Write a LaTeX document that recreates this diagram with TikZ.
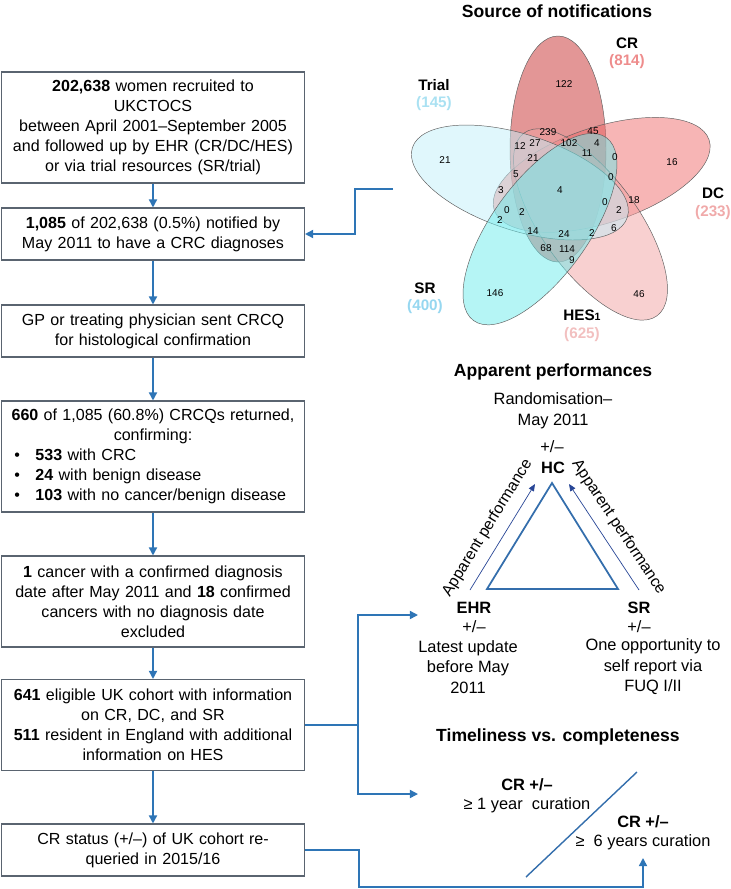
\documentclass[tikz,border=0pt]{standalone}
\usepackage{fontspec}
\setmainfont{Liberation Sans}
\usepackage{tikz}
\usetikzlibrary{calc, arrows.meta, positioning}
\definecolor{flowBlue}{RGB}{46,117,182}
\definecolor{boxGray}{RGB}{90,100,112}
\definecolor{triBlue}{RGB}{52,110,172}
\definecolor{perfNavy}{RGB}{40,70,150}
\definecolor{vennEdge}{RGB}{95,95,95}
\definecolor{crRed}{RGB}{199,45,45}
\definecolor{dcRed}{RGB}{239,107,107}
\definecolor{hesPink}{RGB}{241,161,161}
\definecolor{srCyan}{RGB}{107,235,235}
\definecolor{trialCyan}{RGB}{193,239,249}
\definecolor{crText}{RGB}{238,140,140}
\definecolor{dcText}{RGB}{240,170,170}
\definecolor{hesText}{RGB}{242,192,192}
\definecolor{srText}{RGB}{150,215,240}
\definecolor{trialText}{RGB}{170,225,242}
\newcommand{\boxfont}{\fontsize{13.7}{17}\selectfont}
\newcommand{\rightfont}{\fontsize{14}{17.5}\selectfont}
\newcommand{\titlefont}{\fontsize{15}{18}\selectfont\bfseries}

\begin{document}
\begin{tikzpicture}[x=0.03cm, y=-0.03cm, >={Triangle[length=7pt, width=7pt]},
    flowbox/.style={draw=boxGray, line width=0.9pt, text width=8.85cm, inner xsep=0.12cm, inner ysep=2pt, align=center, font=\boxfont},
    flow/.style={->, flowBlue, line width=1.3pt},
    plain/.style={font=\rightfont, align=center},
    head/.style={font=\rightfont\bfseries},
    title/.style={font=\titlefont},
    vennlab/.style={font=\fontsize{13}{15}\selectfont\bfseries},
    vennnum/.style={font=\fontsize{8.5}{10}\selectfont, inner sep=0pt},
    triline/.style={triBlue, line width=1.5pt},
    perf/.style={-{Triangle[length=6pt, width=5pt]}, perfNavy, line width=0.6pt},
    perftext/.style={midway, sloped, above=5pt, text=black, font=\fontsize{13.5}{16}\selectfont}]
    \useasboundingbox (0,0) rectangle (731,889);

    % flow chart on the left
    \node[flowbox, minimum height=3.33cm] (recruit) at (153,127.5) {{\bfseries 202,638} women recruited to\\UKCTOCS\\between April 2001–September 2005\\and followed up by EHR (CR/DC/HES)\\or via trial resources (SR/trial)};
    \node[flowbox, minimum height=1.56cm] (notified) at (153,234) {{\bfseries 1,085} of 202,638 (0.5\%) notified by\\May 2011 to have a CRC diagnoses};
    \node[flowbox, minimum height=1.56cm] (sent) at (153,331) {GP or treating physician sent CRCQ\\for histological confirmation};
    \node[flowbox, minimum height=3.33cm] (returned) at (153,456.5) {{\bfseries 660} of 1,085 (60.8\%) CRCQs returned,\\confirming:\\
        \makebox[8.85cm][l]{\hspace*{0.27cm}\textbullet\hspace{0.46cm}{\bfseries 533} with CRC}\\
        \makebox[8.85cm][l]{\hspace*{0.27cm}\textbullet\hspace{0.46cm}{\bfseries 24} with benign disease}\\
        \makebox[8.85cm][l]{\hspace*{0.27cm}\textbullet\hspace{0.46cm}{\bfseries 103} with no cancer/benign disease}};
    \node[flowbox, minimum height=2.73cm] (excluded) at (153,601.5) {{\bfseries 1} cancer with a confirmed diagnosis\\date after May 2011 and {\bfseries 18} confirmed\\cancers with no diagnosis date\\excluded};
    \node[flowbox, minimum height=2.73cm] (cohort) at (153,725) {{\bfseries 641} eligible UK cohort with information\\on CR, DC, and SR\\{\bfseries 511} resident in England with additional\\information on HES};
    \node[flowbox, minimum height=1.56cm] (requery) at (153,850) {CR status (+/–) of UK cohort re-\\queried in 2015/16};

    \draw[flow] (recruit) -- (notified);
    \draw[flow] (notified) -- (sent);
    \draw[flow] (sent) -- (returned);
    \draw[flow] (returned) -- (excluded);
    \draw[flow] (excluded) -- (cohort);
    \draw[flow] (cohort) -- (requery);

    % venn diagram
    \node[title] (vennTitle) at (557,11) {Source of notifications};
    \begin{scope}[shift={(562,192)}, x=0.03cm, y=0.03cm]
        \foreach \ang/\col in {90/crRed, 18/dcRed, -54/hesPink, 162/trialCyan, -126/srCyan}
            \filldraw[rotate=\ang, fill=\col, fill opacity=0.5, draw=vennEdge, line width=0.4pt] (43,4) ellipse [x radius=113, y radius=48];
    \end{scope}
    \foreach \px/\py/\n [count=\k] in {564/84/122, 445/160/21, 672/162/16, 495/293/146, 639/294/46,
        548/132/239, 593/131/45, 520/146/12, 535/143/27, 569/143/102, 597/143/4, 587/153/11,
        615/157/0, 533/158/21, 516/174/5, 611/177/0, 501/190/3, 560/190/4, 634/200/18,
        605/202/0, 507/210/0, 522/212/2, 619/210/2, 500/220/2, 533/231/14, 564/234/24,
        592/233/2, 614/228/6, 546/248/68, 567/249/114, 572/260/9}
        \node[vennnum] (cnt\k) at (\px,\py) {\n};

    \node[vennlab] (crLab) at (627,43) {CR};
    \node[vennlab, text=crText] (crNum) at (627,62) {(814)};
    \node[vennlab] (trialLab) at (434,85) {Trial};
    \node[vennlab, text=trialText] (trialNum) at (434,104) {(145)};
    \node[vennlab] (dcLab) at (713,193) {DC};
    \node[vennlab, text=dcText] (dcNum) at (713,213) {(233)};
    \node[vennlab] (srLab) at (425,288) {SR};
    \node[vennlab, text=srText] (srNum) at (425,307) {(400)};
    \node[vennlab] (hesLab) at (582,315) {HES{\fontsize{9}{9}\selectfont 1}};
    \node[vennlab, text=hesText] (hesNum) at (582,335) {(625)};

    \coordinate (vennOut) at (393,189);
    \coordinate (bendA) at (355,189);
    \draw[flow] (vennOut) -- (bendA) |- (notified.east);

    % apparent performances
    \node[title] (perfTitle) at (553,372) {Apparent performances};
    \node[plain] (period) at (553,411) {Randomisation–\\May 2011};
    \node[plain] (hcPM) at (552,447) {+/–};
    \node[head] (hc) at (553,468) {HC};

    \coordinate (triTop) at (552,483);
    \coordinate (triL) at (487,589);
    \coordinate (triR) at (618,589);
    \draw[triline] (triTop) -- (triL) -- (triR) -- cycle;

    \coordinate (perfLs) at (470,590);
    \coordinate (perfLe) at (535,484);
    \coordinate (perfRs) at (639,590);
    \coordinate (perfRe) at (569,484);
    \draw[perf] (perfLs) -- (perfLe) node[perftext] (perfTxtL) {Apparent performance};
    \draw[perf] (perfRs) -- (perfRe) node[perftext] (perfTxtR) {Apparent performance};

    \node[head] (ehr) at (474,608) {EHR};
    \node[plain] (ehrPM) at (474,627) {+/–};
    \node[plain] (ehrNote) at (468,667) {Latest update\\before May\\2011};
    \node[head] (sr) at (639,608) {SR};
    \node[plain] (srPM) at (639,627) {+/–};
    \node[plain] (srNote) at (653,667) {One opportunity to\\self report via\\FUQ I/II};

    % timeliness vs. completeness
    \node[title] (timeTitle) at (558,737) {Timeliness vs. completeness};
    \coordinate (curLow) at (526,877);
    \coordinate (curHigh) at (637,772);
    \draw[triBlue, line width=1.2pt] (curLow) -- (curHigh);
    \node[head] (early) at (527,785) {CR +/–};
    \node[plain] (earlyNote) at (527,805) {≥ 1 year\ \ curation};
    \node[head] (late) at (643,822) {CR +/–};
    \node[plain] (lateNote) at (643,842) {≥\ \ 6 years curation};

    % connectors to the right
    \coordinate (fork) at (358,725);
    \coordinate (ehrIn) at (418,615);
    \coordinate (curIn) at (418,794);
    \draw[flow] (cohort.east) -- (fork) |- (ehrIn);
    \draw[flow] (fork) |- (curIn);

    \coordinate (lowBend) at (359,887);
    \coordinate (lateIn) at (643,858);
    \draw[flow] (requery.east) -| (lowBend) -| (lateIn);
\end{tikzpicture}
\end{document}
